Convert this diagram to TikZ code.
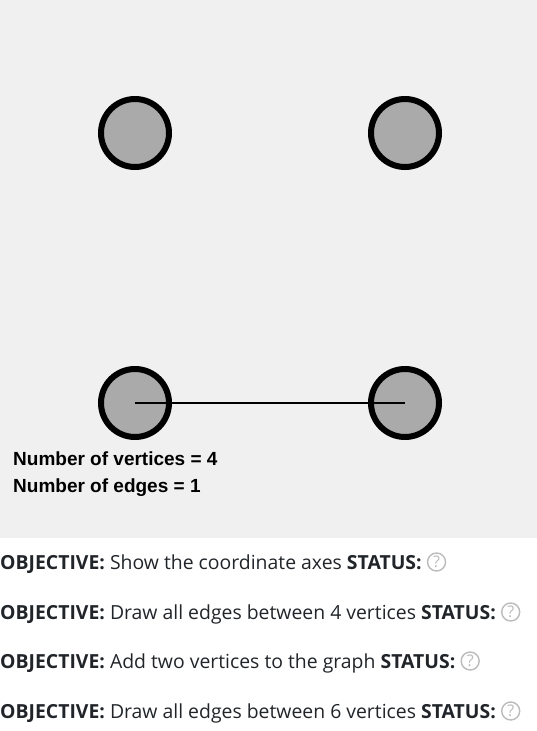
\documentclass[tikz,border=0pt]{standalone}
\usepackage{fontspec}
\setmainfont{Open Sans}
\newfontfamily\canvasfont{Liberation Sans}
\usepackage{tikz}
\usetikzlibrary{matrix}
\usetikzlibrary{positioning}
\definecolor{panelgray}{HTML}{F0F0F0}
\definecolor{vertexgray}{HTML}{AAAAAA}
\definecolor{pagetext}{HTML}{212529}
\definecolor{helpgray}{HTML}{BBBBBB}
\tikzset{
  vertex/.style={circle,draw=black,line width=6pt,fill=vertexgray,minimum size=68pt,inner sep=0pt},
  edge/.style={line width=2pt,black},
  counter/.style={anchor=base west,inner sep=0pt,font=\canvasfont\bfseries\fontsize{19}{23}\selectfont},
  objective/.style={anchor=base west,inner sep=0pt,text=pagetext,font=\fontsize{19.4}{23}\selectfont},
  help/.style={circle,draw=helpgray,line width=1.4pt,minimum size=18pt,inner sep=0pt,text=helpgray,font=\fontsize{16}{16}\selectfont}
}
\begin{document}
\begin{tikzpicture}[x=1pt,y=-1pt]
\useasboundingbox (0,0) rectangle (537,731);
\fill[panelgray] (0,0) rectangle (537,538);
\matrix (graph) at (270,268) [%
matrix of nodes,
nodes=vertex,
column sep=196pt,
row sep=196pt,ampersand replacement=\&
]
{
	{} \& {} \\
	{} \& {} \\
};
\draw[edge] (graph-2-1.center) -- (graph-2-2.center);
\node[counter] (vcount) at (13,465) {Number of vertices = 4};
\node[counter] (ecount) at (13,492) {Number of edges = 1};
\node[objective] (obj1) at (0,569) {\textbf{OBJECTIVE:} Show the coordinate axes \textbf{STATUS:}};
\node[objective] (obj2) at (0,619) {\textbf{OBJECTIVE:} Draw all edges between 4 vertices \textbf{STATUS:}};
\node[objective] (obj3) at (0,668) {\textbf{OBJECTIVE:} Add two vertices to the graph \textbf{STATUS:}};
\node[objective] (obj4) at (0,718) {\textbf{OBJECTIVE:} Draw all edges between 6 vertices \textbf{STATUS:}};
\node[help,right=5pt of obj1.base east,yshift=7pt] (help1) {?};
\node[help,right=5pt of obj2.base east,yshift=7pt] (help2) {?};
\node[help,right=5pt of obj3.base east,yshift=7pt] (help3) {?};
\node[help,right=5pt of obj4.base east,yshift=7pt] (help4) {?};
\end{tikzpicture}
\end{document}
